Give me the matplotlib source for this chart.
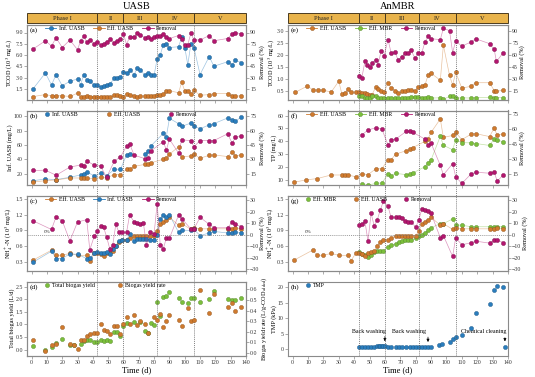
import numpy as np
import matplotlib
matplotlib.use('Agg')
import matplotlib.pyplot as plt
from matplotlib.patches import Rectangle
from matplotlib.lines import Line2D
from matplotlib.ticker import FormatStrFormatter

plt.rcParams['font.family'] = ['Liberation Serif', 'DejaVu Serif']
plt.rcParams['mathtext.fontset'] = 'stix'

nan = np.nan

# ---------------- data ----------------
phase_edges = [-3, 43, 60, 82, 106, 140]
phase_names = ['Phase I', 'II', 'III', 'IV', 'V']

# (a) TCOD, UASB
t_a = [1, 9, 13, 16, 20, 25, 30, 32, 34, 36, 38, 41, 43, 45, 47, 49, 51, 54, 56, 58, 60,
       62, 64, 67, 69, 71, 74, 76, 78, 80, 82, 84, 86, 88, 90, 96, 98, 100, 102, 104, 106,
       110, 116, 119, 128, 131, 133, 137]
inf_cod_a = [1.5, 3.6, 2.0, 3.4, 1.9, 2.5, 2.8, 2.0, 3.4, 2.7, 2.5, 1.95, 2.0, 1.7, 1.85, 2.0, 2.1,
             2.9, 2.95, 3.1, 3.7, 3.6, 4.0, 3.4, 4.3, 4.0, 3.3, 3.6, 3.3, 3.3, 5.5, 6.0, 7.4, 7.5,
             7.0, 7.1, 8.4, 7.0, 4.7, 7.5, 7.0, 3.4, 5.8, 4.5, 5.1, 4.7, 5.3, 5.0]
eff_cod_a = [0.46, 0.72, 0.56, 0.56, 0.56, 0.47, 0.92, 0.40, 0.44, 0.59, 0.46, 0.46, 0.46, 0.43,
             0.42, 0.38, 0.36, 0.67, 0.62, 0.54, 0.46, 0.86, 0.63, 0.54, 0.43, 0.50, 0.54, 0.56,
             0.56, 0.50, 0.67, 0.72, 0.76, 1.16, 1.25, 0.96, 2.40, 1.20, 1.16, 0.76, 1.29, 0.63,
             0.72, 0.86, 0.86, 0.54, 0.50, 0.56]
rem_cod_a = [68, 79, 72, 83, 70, 80, 67, 79, 85, 77, 80, 75, 77, 73, 75, 78, 81, 76, 79, 82,
             88, 74, 84, 84, 89, 87, 83, 84, 82, 84, 86, 86, 88, 84, 82, 86, 82, 73, 74, 89,
             80, 80, 86, 79, 82, 88, 90, 88]

# (b)/(f) TP
t_b = [1, 9, 16, 25, 32, 34, 36, 41, 45, 49, 54, 58, 62, 64, 67, 74, 76, 78, 86, 88, 90, 96,
       98, 104, 106, 110, 116, 119, 128, 131, 133, 137]
inf_tp = [10, 12.4, 11.5, 14.8, 18, 19.5, 21.9, 17, 20.5, 17, 25.7, 25.7, 46, 47, nan, 47, 50.8,
          58.8, 76, 71.6, 97, 89.6, 85.8, 90.5, 86.7, 82.5, 88, 89.6, 97.6, 95, 93, 99]
eff_tp = [8.2, 10, 11, 13.8, 13.8, 13.8, 13.8, 12.4, 14.8, 14, 18.6, 18.6, 25.7, 25.7, 30, 32.8,
          33.7, 35, 40, 42, 47, 57.4, 43, 44.6, 47, 41.3, 45.6, 46, 43.7, 50.3, 44.6, 46]
rem_tp_uasb = [18.2, 18.5, 13.2, 21.8, 23.9, 22.8, 28.1, 23.8, 22.8, 11.1, 28, 32.4, 43.5, 46,
               34.2, 30.6, 31.6, 38.8, 48.4, 39.5, 51, 36.3, 50.2, 49.5, 43, 49.5, 49.5, 49.5,
               56.6, 46.6, 53, 54]
mbr_tp = [nan] * 8 + [6.9, 5.8, 7.3, 7.5, 14.4, 13.2, 15.1, 14.0, 14.4, 15.3, 20.2, 23.5, 25.6,
                      43.9, 37, 33.4, 41.2, 39, 38.8, 38.3, 36.8, 41.9, 41.1, 39.6]
rem_tp_mbr = [nan] * 8 + [53.6, 58.7, 60.8, 59.7, 43.8, 48.6, 49.6, 57.4, 57.4, 56.4, 49.6, 44,
                          45.5, 23.5, 14, 25.2, 12.3, 5.5, 15, 16.7, 15.7, 16.7, 7.9, 14]

# (c)/(g) NH4+-N
t_c = [1, 13, 16, 20, 25, 30, 36, 38, 41, 43, 45, 47, 49, 51, 53, 55, 57, 59, 62, 64,
       67, 69, 71, 73, 75, 77, 80, 82, 84, 86, 88, 90, 96, 98, 104, 106, 110, 116, 119, 128,
       131, 133, 137]
eff_nh = [0.33, 0.52, 0.42, 0.42, 0.46, 0.42, 0.42, 0.32, 0.46,
          0.46, 0.45, 0.40, 0.46, 0.48, 0.50, 0.60, 0.68, 0.71, 0.72, 0.75, 0.80, 0.80, 0.80,
          0.80, 0.80, 0.80, 0.80, 0.88, 1.02, 1.06, 1.10, 1.15, 1.00, 1.03, 0.92, 0.95, 0.93,
          0.93, 0.93, 0.93, 0.93, 0.95, 0.93]
inf_nh = [0.29, 0.50, 0.36, 0.36, 0.45, 0.44, 0.36, 0.37, 0.46,
          0.48, 0.47, 0.47, 0.49, 0.45, 0.55, 0.60, 0.70, 0.72, 0.72, 0.83, 0.70, 0.73, 0.74,
          0.74, 0.73, 0.72, 0.72, 0.82, 1.12, 1.20, 1.15, 1.20, 0.86, 0.90, 0.90, 0.92, 0.80,
          0.85, 0.88, 0.85, 0.85, 0.86, 0.85]
rem_nh_uasb = [12, 4.5, 15.6, 12, -5.4, 11, 13, -13, -1,
               3, 7.5, 6.5, -2, -12, -9, 9, 2, 2,
               2, 17, 11, 10, 9, 10, -9, 2, 1, 27, -9, -12, -3, -3, 17, 14, 5, 5, 15, 9, 6, 6,
               11, 9, 7]
mbr_nh = [nan] * 9 + [0.49, 0.45, 0.43, 0.38, 0.43, 0.49, 0.51, 0.51, 0.51, 0.59, 0.61, 0.64,
                      0.67, 0.69, 0.72, 0.72, 0.72, 0.75, 0.79, 0.82, 0.85, 0.90, 0.95, 1.03,
                      1.03, 1.12, 1.00, 1.00, 0.97, 0.97, 0.97, 0.97, 0.97, 0.97]
rem_nh_mbr = [nan] * 9 + [8.5, 9.3, 11.6, -5.6, 18.5, 7.9, 12.8, 21.4, 29, 24.5, 15, 15, 15.6,
                          14.2, 11.6, 11.3, 11.3, 6.5, 12.8, 22.2, 21.4, 20.2, 18.5, -2.7, -0.7,
                          -18.8, -2.7, -8.7, -7, -5.6, -7.3, -5, -4.4, -7]

# (d) biogas
t_d = [1, 9, 13, 16, 20, 25, 28, 30, 32, 34, 36, 38, 41, 43, 45, 47, 49, 51, 54, 56, 58, 60, 62,
       64, 67, 69, 71, 74, 76, 78, 80, 82, 84, 86, 88, 90, 96, 98, 102, 104, 106, 110, 116, 119,
       128, 131, 133, 137]
biogas_total = [0.16, 0.0, 0.1, 0.26, 0.41, 0.19, 0.19, nan, 0.22, 0.34, 0.38, 0.39, 0.32, 0.32,
                0.39, 0.35, 0.39, 0.35, 0.69, 0.69, 0.54, 0.95, 1.06, nan, 1.08, nan, 1.08,
                0.75, 0.67, 1.04, 0.97, 1.88, 1.33, 2.07, 2.11, 2.3, 2.05, 1.88, 1.85, 2.05,
                2.03, 1.88, 2.0, 2.33, 2.0, 1.97, 1.97, 2.03]
biogas_rate = [0.125, 0.016, 0.07, 0.085, 0.24, 0.085, 0.07, 0.04, 0.12, 0.12, 0.16, 0.18, 0.19,
               0.19, 0.27, 0.22, 0.21, 0.18, 0.25, 0.25, 0.18, 0.27, 0.34, 0.27, 0.36, 0.26,
               0.30, 0.27, 0.19, nan, 0.34, 0.31, 0.37, 0.24, 0.30, 0.36, 0.31, 0.25, 0.42,
               0.30, 0.31, 0.59, 0.38, 0.56, 0.43, 0.47, 0.40, 0.43]

# (e) TCOD AnMBR
t_e = [1.5, 9.5, 13.5, 16.5, 20, 25, 30, 32, 34, 36, 38, 41, 43, 45, 47, 48.5, 50, 51.5, 54,
       55.5, 57.5, 59.5, 62, 64, 66.5, 68.5, 71, 73, 75, 77, 79.5, 81.5, 84, 86, 88, 90, 96, 98,
       102, 104, 106, 110, 116, 119, 128, 131, 132.5, 137]
eff_cod_e = [0.46, 0.72, 0.56, 0.56, 0.56, 0.47, 0.92, 0.40, 0.44, 0.59, 0.46, 0.46, 0.46, 0.43,
             0.43, 0.40, 0.36, 0.36, 0.67, 0.62, 0.54, 0.46, 0.86, 0.63, 0.54, 0.43, 0.50,
             0.54, 0.56, 0.56, 0.50, 0.67, 0.72, 0.76, 1.16, 1.25, 0.96, 2.40, 1.16, 0.76,
             1.29, 0.63, 0.72, 0.86, 0.86, 0.54, 0.50, 0.56]
mbr_cod = [nan] * 12 + [0.30, 0.30, 0.25, 0.24, 0.24, 0.33, 0.33, 0.22, 0.22, 0.23, 0.24,
                        0.22, 0.23, 0.23, 0.24, 0.24, 0.25, 0.26, 0.27, 0.28, 0.25, 0.25,
                        0.27, 0.23, 0.24, 0.18, 0.30, 0.32, 0.22, 0.24, 0.23, 0.25, 0.26,
                        0.24, 0.25, 0.24]
rem_cod_mbr = [nan] * 12 + [34, 32, 52, 48, 45, 50, 54, 48, 65, 59, 79, 63, 64, 54, 58, 62, 62,
                            66, 56, 62, 63, 76, 83, 80, 79, 93, 90, 63, 77, 71, 76, 80, 74, 67,
                            52, 63]

# (h) TMP
t_h = [43, 45, 47, 49, 51, 53, 55, 56, 57, 58, 59, 60, 62, 64, 67, 69, 71, 74, 76, 78, 80, 82,
       84, 86, 88, 90, 95, 97, 102, 104, 106, 110, 116, 119, 128, 131, 133, 137, 138]
tmp = [0.7, 0.75, 0.7, 0.6, 0.6, 0.7, 0.9, 1.0, 1.1, 1.1, 1.1, 1.0, 0.75, 0.7, 0.7, 0.65, 0.7,
       0.7, 0.75, 0.65, 0.6, 0.65, 0.6, 0.7, 0.75, 0.7, 1.3, 1.7, 2.3, 3.2, 3.9, 4.6, 6.9, 11.8,
       14.7, 19.1, 20.5, 20.1, 0.8]

# ---------------- style ----------------
BLUE = '#2a7dbd'
ORANGE = '#cf7a2e'
MAGENTA = '#b3166f'
GREEN = '#7bbf3c'
SPINE = '#8a8a8a'
PHASE = '#e9b44c'
XLIM = (-3, 140)
TICK_FS = 4.2
LAB_FS = 4.5
LEG_FS = 4.2
MS = 3.0

W, H = 535, 377
fig = plt.figure(figsize=(W / 100, H / 100), dpi=100)


def ax_at(x0, y0, x1, y1):
    return fig.add_axes([x0 / W, 1 - y1 / H, (x1 - x0) / W, (y1 - y0) / H])


def darker(c, f=0.7):
    import matplotlib.colors as mc
    r, g, b = mc.to_rgb(c)
    return (r * f, g * f, b * f)


def style(ax):
    for s in ax.spines.values():
        s.set_color(SPINE)
        s.set_linewidth(0.8)
    ax.tick_params(direction='out', length=2, width=0.5, color=SPINE, labelsize=TICK_FS, pad=1,
                   labelcolor='#333333')


def series(ax, t, y, color, line=True, z=3):
    if line:
        ax.plot(t, y, '-', color=color, lw=0.5, alpha=0.45, zorder=z)
    ax.plot(t, y, 'o', color=color, ms=MS, mec=darker(color), mew=0.3, zorder=z + 1,
            linestyle='none')


def handle(color, line=True):
    return Line2D([0], [0], color=color, lw=0.6 if line else 0, marker='o', ms=MS,
                  mec=darker(color), mew=0.3, alpha=1)


def legend(ax, items, line=True, x=0.065, spacing=1.5):
    hs = [handle(c, line) for c, _ in items]
    ls = [l for _, l in items]
    ax.legend(hs, ls, loc='upper left', bbox_to_anchor=(x, 1.03), ncol=len(items),
              frameon=False, fontsize=LEG_FS, handlelength=2.0 if line else 0.8,
              handletextpad=0.4, columnspacing=spacing, borderaxespad=0.2)


cols = [(27, 246), (288, 508)]
rows = [(25, 100), (110.5, 185), (196, 270.5), (281.5, 356)]

axes = {}
for ci, (x0, x1) in enumerate(cols):
    for ri, (y0, y1) in enumerate(rows):
        ax = ax_at(x0, y0, x1, y1)
        ax.set_xlim(*XLIM)
        ax.set_xticks(range(0, 141, 10))
        style(ax)
        if ri < 3:
            ax.set_xticklabels([])
        else:
            ax.set_xlabel('Time (d)', fontsize=6, labelpad=0.5)
        axes[(ci, ri)] = ax

# phase bars and vertical lines
for ci, (x0, x1) in enumerate(cols):
    pb = ax_at(x0, 13, x1, 23)
    pb.set_xlim(*XLIM)
    pb.set_ylim(0, 1)
    pb.axis('off')
    for i in range(5):
        a, b = phase_edges[i], phase_edges[i + 1]
        pb.add_patch(Rectangle((a, 0), b - a, 1, facecolor=PHASE, edgecolor='#4a3b1f', lw=0.7,
                               clip_on=False))
        pb.text((a + b) / 2, 0.45, phase_names[i], ha='center', va='center', fontsize=4.6,
                color='#222222')
    ov = ax_at(x0, 25, x1, 356)
    ov.set_xlim(*XLIM)
    ov.set_ylim(0, 1)
    ov.axis('off')
    ov.patch.set_alpha(0)
    for xv in phase_edges[1:-1]:
        ov.axvline(xv, color='#555555', lw=0.5, ls=(0, (1.5, 1.5)), zorder=0)

fig.text(136.5 / W, 1 - 6.5 / H, 'UASB', ha='center', va='center', fontsize=7.5)
fig.text(398 / W, 1 - 6.5 / H, 'AnMBR', ha='center', va='center', fontsize=7.5)


def twin(ax, ylim, ticks, label, fmt=None):
    tw = ax.twinx()
    tw.set_ylim(*ylim)
    tw.set_yticks(ticks)
    if fmt:
        tw.yaxis.set_major_formatter(FormatStrFormatter(fmt))
    tw.set_ylabel(label, fontsize=LAB_FS, labelpad=0.5)
    style(tw)
    return tw


def panel_label(ax, s):
    ax.text(0.012, 0.93, s, transform=ax.transAxes, fontsize=5.3, va='center', ha='left')


def left_setup(ax, ylim, ticks, label, fmt=None):
    ax.set_ylim(*ylim)
    ax.set_yticks(ticks)
    if fmt:
        ax.yaxis.set_major_formatter(FormatStrFormatter(fmt))
    ax.set_ylabel(label, fontsize=LAB_FS, labelpad=0.5)


twins = {}

# (a)
ax = axes[(0, 0)]
left_setup(ax, (0, 10), [1.5, 3.0, 4.5, 6.0, 7.5, 9.0], 'TCOD (10$^3$ mg/L)', '%.1f')
tw = twin(ax, (0, 100), [15, 30, 45, 60, 75, 90], 'Removal (%)')
twins[(0, 0)] = tw
series(ax, t_a, inf_cod_a, BLUE)
series(ax, t_a, eff_cod_a, ORANGE)
series(tw, t_a, rem_cod_a, MAGENTA)
panel_label(ax, '(a)')
legend(tw, [(BLUE, 'Inf. UASB'), (ORANGE, 'Eff. UASB'), (MAGENTA, 'Removal')])

# (b)
ax = axes[(0, 1)]
left_setup(ax, (4, 108), [20, 40, 60, 80, 100], 'Inf. UASB (mg/L)')
tw = twin(ax, (3, 81), [15, 30, 45, 60, 75], 'Removal (%)')
twins[(0, 1)] = tw
series(ax, t_b, inf_tp, BLUE)
series(ax, t_b, eff_tp, ORANGE)
series(tw, t_b, rem_tp_uasb, MAGENTA)
panel_label(ax, '(b)')
legend(tw, [(BLUE, 'Inf. UASB'), (ORANGE, 'Eff. UASB'), (MAGENTA, 'Removal')], line=False,
       spacing=5)

# (c)
ax = axes[(0, 2)]
left_setup(ax, (0.13, 1.56), [0.3, 0.6, 0.9, 1.2, 1.5], 'NH$_4^+$-N (10$^3$ mg/L)', '%.1f')
tw = twin(ax, (-31, 33.5), [-30, -20, -10, 0, 10, 20, 30], 'Removal (%)')
twins[(0, 2)] = tw
tw.axhline(0, color='#777777', lw=0.5, ls=(0, (1.5, 1.5)), zorder=1)
tw.text(10, 1, '0%', fontsize=3.8, ha='center', va='bottom', color='#333333')
series(ax, t_c, eff_nh, ORANGE)
series(ax, t_c, inf_nh, BLUE)
series(tw, t_c, rem_nh_uasb, MAGENTA)
panel_label(ax, '(c)')
legend(tw, [(ORANGE, 'Eff. UASB'), (BLUE, 'Inf. UASB'), (MAGENTA, 'Removal')])

# (d)
ax = axes[(0, 3)]
left_setup(ax, (-0.25, 2.7), [0.0, 0.5, 1.0, 1.5, 2.0, 2.5], 'Total biogas yield (L/d)', '%.1f')
tw = twin(ax, (-0.03, 0.675), [0.0, 0.1, 0.2, 0.3, 0.4, 0.5, 0.6],
          'Biogas yield rate (L/g-COD$_{\\mathrm{added}}$)', '%.1f')
twins[(0, 3)] = tw
series(ax, t_d, biogas_total, GREEN, line=False)
series(tw, t_d, biogas_rate, ORANGE, line=False)
panel_label(ax, '(d)')
legend(tw, [(GREEN, 'Total biogas yield'), (ORANGE, 'Biogas yield rate')], line=False,
       spacing=4)

# (e)
ax = axes[(1, 0)]
left_setup(ax, (0.15, 3.23), [0.5, 1.0, 1.5, 2.0, 2.5, 3.0], 'TCOD (10$^3$ mg/L)', '%.1f')
tw = twin(ax, (4.5, 97), [15, 30, 45, 60, 75, 90], 'Removal (%)')
series(ax, t_e, eff_cod_e, ORANGE)
series(ax, t_e, mbr_cod, GREEN)
series(tw, t_e, rem_cod_mbr, MAGENTA)
panel_label(ax, '(e)')
legend(tw, [(ORANGE, 'Eff. UASB'), (GREEN, 'Eff. MBR'), (MAGENTA, 'Removal')])

# (f)
ax = axes[(1, 1)]
left_setup(ax, (6, 64), [10, 20, 30, 40, 50, 60], 'TP (mg/L)')
tw = twin(ax, (4, 78), [15, 30, 45, 60, 75], 'Removal (%)')
series(ax, t_b, eff_tp, ORANGE)
series(ax, t_b, mbr_tp, GREEN)
series(tw, t_b, rem_tp_mbr, MAGENTA)
panel_label(ax, '(f)')
legend(tw, [(ORANGE, 'Eff. UASB'), (GREEN, 'Eff. MBR'), (MAGENTA, 'Removal')])

# (g)
ax = axes[(1, 2)]
left_setup(ax, (0.13, 1.56), [0.3, 0.6, 0.9, 1.2, 1.5], 'NH$_4^+$-N (10$^3$ mg/L)', '%.1f')
tw = twin(ax, (-31, 33.5), [-30, -20, -10, 0, 10, 20, 30], 'Removal (%)')
tw.axhline(0, color='#777777', lw=0.5, ls=(0, (1.5, 1.5)), zorder=1)
tw.text(10, 1, '0%', fontsize=3.8, ha='center', va='bottom', color='#333333')
series(ax, t_c, mbr_nh, GREEN)
series(ax, t_c, eff_nh, ORANGE)
series(tw, t_c, rem_nh_mbr, MAGENTA)
panel_label(ax, '(g)')
legend(tw, [(GREEN, 'Eff. MBR'), (ORANGE, 'Eff. UASB'), (MAGENTA, 'Removal')], line=False,
       spacing=3)

# (h)
ax = axes[(1, 3)]
left_setup(ax, (-2.2, 21.8), [0, 5, 10, 15, 20], 'TMP (kPa)')
series(ax, t_h, tmp, BLUE, line=False)
panel_label(ax, '(h)')
legend(ax, [(BLUE, 'TMP')], line=False)
arrow = dict(arrowstyle='-|>', color='black', lw=0.5, mutation_scale=4)
ax.text(60.5, 5.0, 'Back washing', fontsize=4.3, ha='right', va='bottom')
ax.annotate('', xy=(60, 1.6), xytext=(60, 5.0), arrowprops=arrow)
ax.text(86.5, 5.0, 'Back washing', fontsize=4.3, ha='right', va='bottom')
ax.annotate('', xy=(88, 1.4), xytext=(88, 4.8), arrowprops=arrow)
ax.text(139, 4.8, 'Chemical cleaning', fontsize=4.3, ha='right', va='bottom')
ax.annotate('', xy=(138, 1.6), xytext=(138, 4.6), arrowprops=arrow)

# keep the right-column y labels clear of the left-column right labels
for ri in range(4):
    axes[(1, ri)].yaxis.set_label_coords(-0.05, 0.5)
    twins[(0, ri)].yaxis.set_label_coords(1.062, 0.5)

fig.savefig('out.png', dpi=100)
